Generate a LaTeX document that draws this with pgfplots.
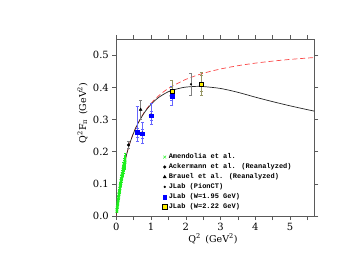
\documentclass[border=0pt]{standalone}
\usepackage{pgfplots}
\pgfplotsset{compat=1.18}
\usepackage{pgfplotstable}
\usepackage{fontspec}
\setmainfont{DejaVu Serif}
\newfontfamily\legfont{Liberation Mono}
\definecolor{ambgreen}{RGB}{30,240,30}
\definecolor{jblue}{RGB}{0,0,255}
\definecolor{jyellow}{RGB}{255,240,0}
\definecolor{errolive}{RGB}{150,150,100}
\definecolor{axgray}{RGB}{90,90,90}
\definecolor{dashred}{RGB}{250,70,70}

\pgfplotstableread{
x y e
0.015 0.0150 0.003
0.021 0.0195 0.003
0.027 0.0262 0.004
0.033 0.0305 0.004
0.039 0.0370 0.004
0.045 0.0408 0.005
0.051 0.0472 0.005
0.057 0.0508 0.005
0.063 0.0570 0.006
0.069 0.0598 0.006
0.075 0.0665 0.006
0.081 0.0690 0.007
0.087 0.0758 0.007
0.093 0.0775 0.007
0.099 0.0845 0.008
0.105 0.0860 0.008
0.111 0.0930 0.008
0.117 0.0940 0.009
0.123 0.1010 0.009
0.129 0.1020 0.010
0.135 0.1090 0.010
0.141 0.1095 0.010
0.147 0.1165 0.011
0.153 0.1170 0.011
0.159 0.1240 0.012
0.165 0.1240 0.012
0.171 0.1310 0.012
0.177 0.1305 0.013
0.183 0.1385 0.013
0.189 0.1375 0.014
0.195 0.1450 0.014
0.201 0.1440 0.015
0.207 0.1515 0.015
0.213 0.1500 0.016
0.219 0.1580 0.016
0.225 0.1565 0.017
0.231 0.1640 0.017
0.237 0.1625 0.018
0.243 0.1700 0.018
0.249 0.1680 0.019
0.253 0.1740 0.020
}\amendolia

\pgfplotstableread{
x y
0.00 0.0000
0.05 0.0458
0.10 0.0844
0.20 0.1459
0.30 0.1929
0.40 0.2298
0.50 0.2596
0.60 0.2842
0.80 0.3224
1.00 0.3506
1.20 0.3724
1.50 0.3971
2.00 0.4252
2.50 0.4441
3.00 0.4576
3.50 0.4678
4.00 0.4758
4.50 0.4821
5.00 0.4874
5.50 0.4917
5.70 0.4933
}\monopole

\pgfplotstableread{
x y
0.00 0.0000
0.05 0.0458
0.10 0.0844
0.20 0.1459
0.30 0.1929
0.40 0.2296
0.50 0.2590
0.60 0.2833
0.80 0.3205
1.00 0.3475
1.20 0.3675
1.50 0.3870
1.80 0.3970
2.00 0.4012
2.30 0.4035
2.50 0.4030
3.00 0.3970
3.50 0.3850
4.00 0.3700
4.50 0.3560
5.00 0.3430
5.50 0.3310
5.70 0.3265
}\model

\pgfplotstableread{
x y ep em
0.60 0.260 0.082 0.028
0.75 0.256 0.035 0.030
1.00 0.312 0.040 0.027
1.60 0.374 0.030 0.030
}\blueouter
\pgfplotstableread{
x y ep em
0.60 0.260 0.012 0.015
0.75 0.256 0.014 0.015
1.00 0.312 0.013 0.014
1.60 0.374 0.012 0.013
}\blueinner
\pgfplotstableread{
x y ep em
1.60 0.388 0.036 0.020
2.45 0.409 0.040 0.033
}\yellowouter
\pgfplotstableread{
x y ep em
1.60 0.388 0.012 0.012
2.45 0.409 0.028 0.020
}\yellowinner

\begin{document}
\begin{tikzpicture}
\path[use as bounding box] (-116.3bp,-51bp) rectangle (228.7bp,216bp);
\begin{axis}[
  at={(0,0)}, anchor=south west, scale only axis,
  width=198bp, height=176.7bp,
  xmin=0, xmax=5.7, ymin=0, ymax=0.55,
  xtick={0,1,2,3,4,5}, minor xtick={0.5,1.5,2.5,3.5,4.5,5.5},
  ytick={0,0.1,0.2,0.3,0.4,0.5},
  yticklabel style={/pgf/number format/fixed,/pgf/number format/fixed zerofill,/pgf/number format/precision=1},
  /pgf/number format/assume math mode=true,
  tick align=outside, major tick length=4bp, minor tick length=4bp,
  axis line style={axgray, line width=0.6pt},
  every tick/.style={axgray, line width=0.5pt},
  tick label style={font=\fontsize{10}{12}\selectfont},
  label style={font=\fontsize{9.5}{11}\selectfont},
  xlabel={Q\textsuperscript{2} \,(GeV\textsuperscript{2})},
  ylabel={Q\textsuperscript{2}F\textsubscript{π} \,(GeV\textsuperscript{2})},
  xlabel style={at={(axis description cs:0.488,-0.13)}, anchor=center},
  ylabel style={at={(axis description cs:-0.17,0.583)}, anchor=center},
  legend style={draw=none, fill=none, font=\legfont\bfseries\fontsize{7}{8}\selectfont,
    at={(axis description cs:0.228,0.37)}, anchor=north west, row sep=-0.6pt,
    inner sep=1pt},
  legend cell align=left,
  legend image code/.code={\draw[mark repeat=2,mark phase=2,#1] plot coordinates {(0cm,0cm) (0.13cm,0cm) (0.42cm,0cm)};},
]
\addplot[dashred, dashed, dash pattern=on 5pt off 3pt, line width=0.7pt, smooth, forget plot] table[x=x,y=y] {\monopole};
\addplot[black!85, line width=0.7pt, smooth, forget plot] table[x=x,y=y] {\model};

\addplot[only marks, mark=x, mark size=2pt, color=ambgreen, line width=0.5pt,
  error bars/.cd, y dir=both, y explicit, error bar style={ambgreen, line width=0.5pt}, error mark options={ambgreen, mark size=1pt, rotate=90}]
  table[x=x,y=y,y error=e] {\amendolia};
\addlegendentry{Amendolia et al.}

\addplot[only marks, mark=*, mark size=1.4pt, color=black,
  error bars/.cd, y dir=both, y explicit, error bar style={gray, line width=0.4pt}, error mark options={gray, mark size=1.5pt, rotate=90}]
  coordinates {(0.35,0.221) +- (0,0.011)};
\addlegendentry{Ackermann et al. (Reanalyzed)}

\addplot[only marks, mark=triangle*, mark size=1.7pt, color=black,
  error bars/.cd, y dir=both, y explicit, error bar style={gray, line width=0.4pt}, error mark options={gray, mark size=1.5pt, rotate=90}]
  coordinates {(0.70,0.331) +- (0,0.031)};
\addlegendentry{Brauel et al. (Reanalyzed)}

\addplot[only marks, mark=*, mark size=0.9pt, color=black,
  error bars/.cd, y dir=both, y explicit, error bar style={gray, line width=0.4pt}, error mark options={gray, mark size=1.5pt, rotate=90}]
  coordinates {(2.15,0.410) +- (0,0.035)};
\addlegendentry{JLab (PionCT)}

\addplot[only marks, mark=square*, mark size=1.9pt, color=jblue,
  error bars/.cd, y dir=both, y explicit, error bar style={jblue!60, line width=0.4pt}, error mark options={jblue!60, mark size=1.5pt, rotate=90}]
  table[x=x,y=y,y error plus=ep,y error minus=em] {\blueouter};
\addlegendentry{JLab (W=1.95 GeV)}

\addplot[only marks, mark=square*, mark size=2.1pt, mark options={draw=black, fill=jyellow, line width=0.4pt},
  error bars/.cd, y dir=both, y explicit, error bar style={errolive, line width=0.4pt}, error mark options={errolive, mark size=1.5pt, rotate=90}]
  table[x=x,y=y,y error plus=ep,y error minus=em] {\yellowouter};
\addlegendentry{JLab (W=2.22 GeV)}

\addplot[only marks, mark=none, draw=none, forget plot,
  error bars/.cd, y dir=both, y explicit, error bar style={jblue!60, line width=0.4pt}, error mark options={jblue!60, mark size=1.5pt, rotate=90}]
  table[x=x,y=y,y error plus=ep,y error minus=em] {\blueinner};
\addplot[only marks, mark=none, draw=none, forget plot,
  error bars/.cd, y dir=both, y explicit, error bar style={errolive, line width=0.4pt}, error mark options={errolive, mark size=1.5pt, rotate=90}]
  table[x=x,y=y,y error plus=ep,y error minus=em] {\yellowinner};
\addplot[only marks, mark=square*, mark size=1.9pt, color=jblue, forget plot] table[x=x,y=y] {\blueouter};
\addplot[only marks, mark=square*, mark size=2.1pt, mark options={draw=black, fill=jyellow, line width=0.4pt}, forget plot] table[x=x,y=y] {\yellowouter};
\end{axis}
\end{tikzpicture}
\end{document}
